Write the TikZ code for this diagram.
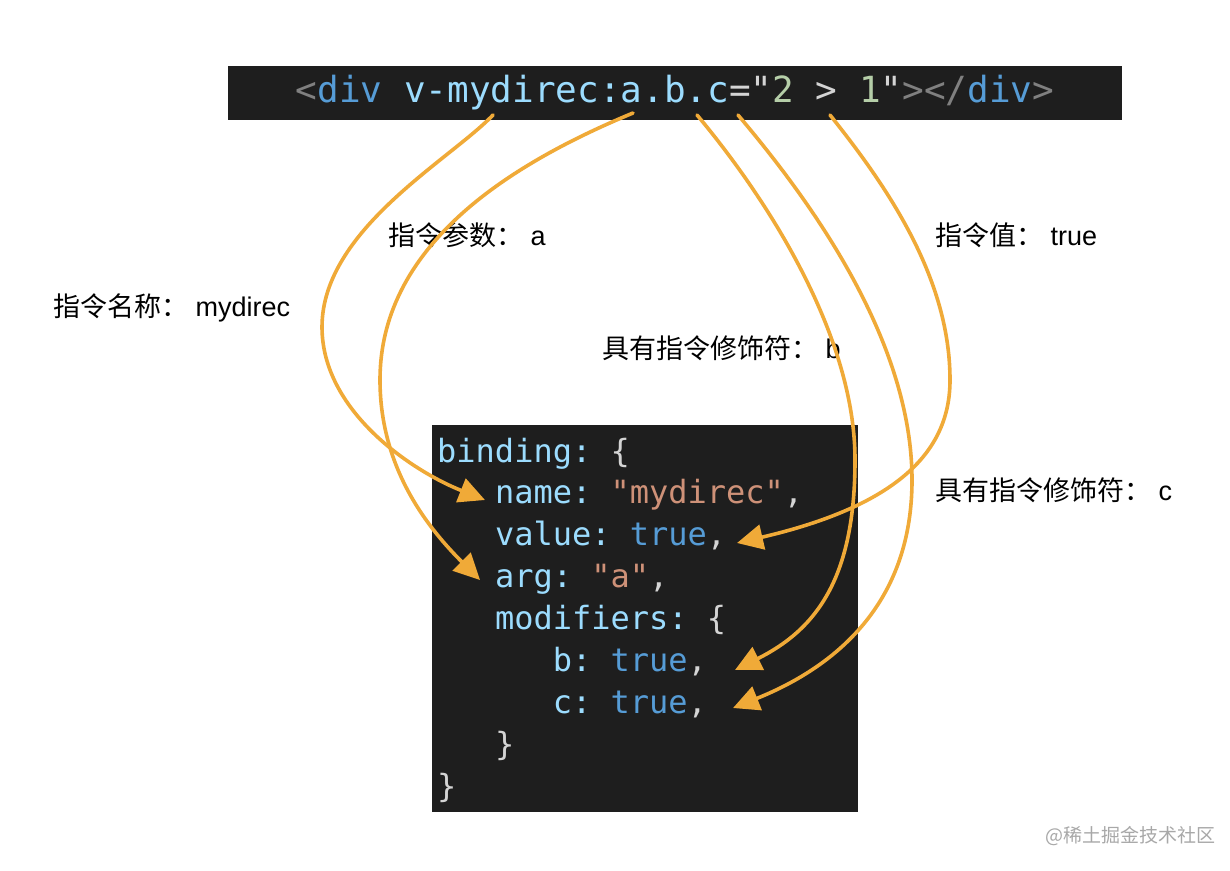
\documentclass[tikz,border=0pt]{standalone}
\usepackage{fontspec}
\setmainfont{Liberation Sans}
\setmonofont{DejaVu Sans Mono}
\newfontfamily\cjk{Noto Sans CJK SC}
\usepackage{xcolor}
\usepackage{tikz}
\usetikzlibrary{arrows.meta}

\definecolor{bgdark}{HTML}{1E1E1E}
\definecolor{cTag}{HTML}{808080}
\definecolor{cName}{HTML}{569CD6}
\definecolor{cKey}{HTML}{9CDCFE}
\definecolor{cPun}{HTML}{D4D4D4}
\definecolor{cNum}{HTML}{B5CEA8}
\definecolor{cStr}{HTML}{CE9178}
\definecolor{cPen}{HTML}{F0AA38}
\definecolor{cMark}{HTML}{A8A8A8}

\newcommand{\toktag}[1]{\textcolor{cTag}{#1}}
\newcommand{\tokname}[1]{\textcolor{cName}{#1}}
\newcommand{\tokkey}[1]{\textcolor{cKey}{#1}}
\newcommand{\tokpun}[1]{\textcolor{cPun}{#1}}
\newcommand{\toknum}[1]{\textcolor{cNum}{#1}}
\newcommand{\tokstr}[1]{\textcolor{cStr}{#1}}

\begin{document}
\begin{tikzpicture}[x=1pt, y=-1pt,
    note/.style={anchor=west, inner sep=0, font=\fontsize{27}{32}\selectfont},
    codeline/.style={anchor=base west, inner sep=0, font=\ttfamily\fontsize{32}{38}\selectfont},
    pen/.style={draw=cPen, line width=3.6pt, line cap=round, -{Triangle[length=26pt,width=25pt]}}]
    \useasboundingbox (0,0) rectangle (1230,870);
    \fill[white] (0,0) rectangle (1230,870);

    % template line
    \node[fill=bgdark, minimum width=894pt, minimum height=54pt, inner sep=0,
          font=\ttfamily\fontsize{36}{40}\selectfont] (tag) at (675,93)
        {\toktag{<}\tokname{div} \tokkey{v-mydirec:a.b.c}\tokpun{="}\toknum{2} \tokpun{>} \toknum{1}\tokpun{"}\toktag{></}\tokname{div}\toktag{>}};

    % binding object
    \node[fill=bgdark, minimum width=426pt, minimum height=387pt, inner sep=0] (box) at (645,618.5) {};
    \node[codeline] (line0) at (437,462.0) {\tokkey{binding:} \tokpun{\{}};
    \node[codeline] (line1) at (437,503.9) {\phantom{000}\tokkey{name:} \tokstr{"mydirec"}\tokpun{,}};
    \node[codeline] (line2) at (437,545.8) {\phantom{000}\tokkey{value:} \tokname{true}\tokpun{,}};
    \node[codeline] (line3) at (437,587.7) {\phantom{000}\tokkey{arg:} \tokstr{"a"}\tokpun{,}};
    \node[codeline] (line4) at (437,629.6) {\phantom{000}\tokkey{modifiers:} \tokpun{\{}};
    \node[codeline] (line5) at (437,671.5) {\phantom{000000}\tokkey{b:} \tokname{true}\tokpun{,}};
    \node[codeline] (line6) at (437,713.4) {\phantom{000000}\tokkey{c:} \tokname{true}\tokpun{,}};
    \node[codeline] (line7) at (437,755.3) {\phantom{000}\tokpun{\}}};
    \node[codeline] (line8) at (437,797.2) {\tokpun{\}}};

    % labels
    \node[note] (nName) at (53,308) {{\cjk 指令名称：} mydirec};
    \node[note] (nArg) at (388,235) {{\cjk 指令参数：} a};
    \node[note] (nVal) at (935,235) {{\cjk 指令值：} true};
    \node[note] (nModB) at (602,348) {{\cjk 具有指令修饰符：} b};
    \node[note] (nModC) at (935,490) {{\cjk 具有指令修饰符：} c};
    \node[anchor=west, inner sep=0, text=cMark, font=\cjk\fontsize{19}{22}\selectfont] (mark) at (1045,836) {@稀土掘金技术社区};

    % arrow ends
    \coordinate (srcName) at (493,115);
    \coordinate (srcArg) at (633,113);
    \coordinate (srcB) at (697,115);
    \coordinate (srcC) at (738,115);
    \coordinate (srcVal) at (830,115);
    \coordinate (tipName) at (485,500);
    \coordinate (tipArg) at (480,580);
    \coordinate (tipVal) at (737,543);
    \coordinate (tipB) at (735,670);
    \coordinate (tipC) at (733,708);

    % arrows
    \draw[pen] (srcName) .. controls (450,160) and (322,230) .. (322,327)
        .. controls (322,410) and (410,470) .. (tipName);
    \draw[pen] (srcArg) .. controls (520,160) and (380,240) .. (380,380)
        .. controls (380,470) and (430,530) .. (tipArg);
    \draw[pen] (srcB) .. controls (760,190) and (855,330) .. (855,460)
        .. controls (855,580) and (815,630) .. (tipB);
    \draw[pen] (srcC) .. controls (810,200) and (912,340) .. (912,480)
        .. controls (912,600) and (840,665) .. (tipC);
    \draw[pen] (srcVal) .. controls (890,190) and (950,280) .. (950,380)
        .. controls (950,450) and (900,505) .. (tipVal);
\end{tikzpicture}
\end{document}
